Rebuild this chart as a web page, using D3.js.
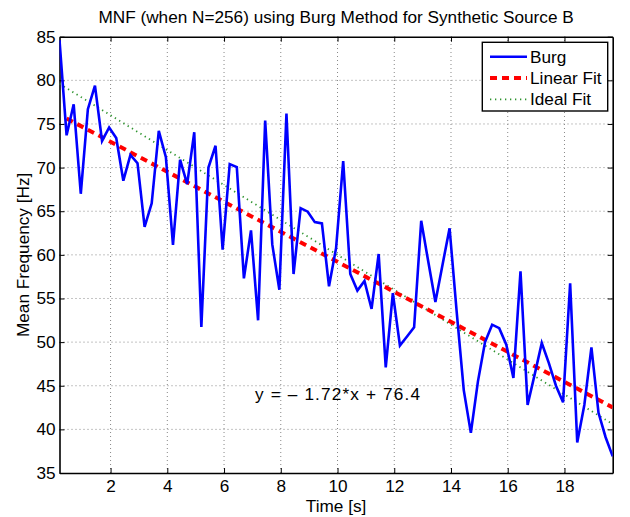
<!DOCTYPE html>
<html>
<head>
<meta charset="utf-8">
<script src="https://cdn.jsdelivr.net/npm/d3@7"></script>
<style>
  body { margin: 0; background: #fff; }
  text { font-family: "Liberation Sans", Arial, sans-serif; fill: #000; }
</style>
</head>
<body>
<div id="chart"></div>
<script>
// Sample times [s]
const times = [
  0.2, 0.45, 0.7, 0.95, 1.2, 1.45, 1.7, 1.95, 2.2, 2.45,
  2.7, 2.95, 3.2, 3.45, 3.7, 3.95, 4.2, 4.45, 4.7, 4.95,
  5.2, 5.45, 5.7, 5.95, 6.2, 6.45, 6.7, 6.95, 7.2, 7.45,
  7.7, 7.95, 8.2, 8.45, 8.7, 8.95, 9.2, 9.45, 9.7, 9.95,
  10.2, 10.45, 10.7, 10.95, 11.2, 11.45, 11.7, 11.95, 12.2, 12.45,
  12.7, 12.95, 13.2, 13.45, 13.7, 13.95, 14.2, 14.45, 14.7, 14.95,
  15.2, 15.45, 15.7, 15.95, 16.2, 16.45, 16.7, 16.95, 17.2, 17.45,
  17.7, 17.95, 18.2, 18.45, 18.7, 18.95, 19.2, 19.45, 19.7
];

// Burg mean frequency [Hz]
const burg = [
  84.6, 73.7, 77.25, 67.0, 76.7, 79.4, 73.05, 74.6, 73.4, 68.5,
  71.45, 70.5, 63.2, 65.9, 74.2, 71.2, 61.15, 70.9, 68.1, 74.05,
  51.75, 70.0, 72.5, 60.6, 70.4, 70.05, 57.3, 62.8, 52.5, 75.4,
  61.2, 56.0, 76.2, 57.8, 65.35, 64.95, 63.75, 63.6, 56.4, 60.8,
  70.75, 57.8, 55.9, 57.0, 53.8, 60.1, 47.1, 55.6, 49.6, 50.65,
  51.7, 63.9, 59.2, 54.6, 58.85, 63.05, 53.5, 44.5, 39.6, 45.5,
  50.0, 52.0, 51.6, 49.7, 45.9, 58.1, 42.8, 46.3, 49.9, 47.6,
  45.0, 43.1, 56.75, 38.5, 42.8, 49.4, 41.9, 39.1, 36.9
];

// fit coefficients
const linearFit = { slope: -1.72, intercept: 76.4 };
const idealFit = { slope: -2, intercept: 80 };

const xTicks = [2, 4, 6, 8, 10, 12, 14, 16, 18];
const yTicks = [35, 40, 45, 50, 55, 60, 65, 70, 75, 80, 85];

const legendItems = ["Burg", "Linear Fit", "Ideal Fit"];

const width = 630,
  height = 517;
const margin = { top: 36.7, right: 17.3, bottom: 44, left: 59.5 };
const fontSize = "17.2px";

const svg = d3
  .select("#chart")
  .append("svg")
  .attr("width", width)
  .attr("height", height);

const x = d3
  .scaleLinear()
  .domain([times[0], times[times.length - 1]])
  .range([margin.left, width - margin.right]);

const y = d3
  .scaleLinear()
  .domain([35, 85])
  .range([height - margin.bottom, margin.top]);

svg
  .append("clipPath")
  .attr("id", "clip")
  .append("rect")
  .attr("x", margin.left)
  .attr("y", margin.top)
  .attr("width", width - margin.left - margin.right)
  .attr("height", height - margin.top - margin.bottom);

// grid
const grid = svg.append("g").attr("stroke", "#888").attr("stroke-width", 1).attr("stroke-dasharray", "1,3");
xTicks.forEach((t) => {
  grid.append("line")
    .attr("x1", x(t)).attr("x2", x(t))
    .attr("y1", y(35)).attr("y2", y(85));
});
yTicks.slice(1, -1).forEach((t) => {
  grid.append("line")
    .attr("x1", x.range()[0]).attr("x2", x.range()[1])
    .attr("y1", y(t)).attr("y2", y(t));
});

// axes (box with inward ticks)
const tickLen = 5;
const axB = svg.append("g").attr("transform", `translate(0,${y(35)})`)
  .call(d3.axisBottom(x).tickValues(xTicks).tickSizeInner(-tickLen).tickSizeOuter(0).tickPadding(7));
const axT = svg.append("g").attr("transform", `translate(0,${y(85)})`)
  .call(d3.axisTop(x).tickValues(xTicks).tickSizeInner(-tickLen).tickSizeOuter(0).tickFormat(""));
const axL = svg.append("g").attr("transform", `translate(${x.range()[0]},0)`)
  .call(d3.axisLeft(y).tickValues(yTicks).tickSizeInner(-tickLen).tickSizeOuter(0).tickPadding(4));
const axR = svg.append("g").attr("transform", `translate(${x.range()[1]},0)`)
  .call(d3.axisRight(y).tickValues(yTicks).tickSizeInner(-tickLen).tickSizeOuter(0).tickFormat(""));

[axB, axT, axL, axR].forEach((a) => {
  a.select(".domain").attr("stroke", "#000").attr("stroke-width", 1.6);
  a.selectAll(".tick line").attr("stroke", "#000").attr("stroke-width", 1);
  a.selectAll(".tick text")
    .style("font-family", "'Liberation Sans', Arial, sans-serif")
    .style("font-size", fontSize)
    .attr("fill", "#000");
});

const plot = svg.append("g").attr("clip-path", "url(#clip)");

// ideal fit
plot.append("path")
  .datum([times[0], times[times.length - 1]])
  .attr("fill", "none")
  .attr("stroke", "#2f942f")
  .attr("stroke-width", 1.8)
  .attr("stroke-dasharray", "1.3,3.7")
  .attr("d", d3.line().x((t) => x(t)).y((t) => y(idealFit.intercept + idealFit.slope * t)));

// linear fit
plot.append("path")
  .datum([times[1], times[times.length - 1]])
  .attr("fill", "none")
  .attr("stroke", "#ff0000")
  .attr("stroke-width", 4)
  .attr("stroke-dasharray", "7,5")
  .attr("d", d3.line().x((t) => x(t)).y((t) => y(linearFit.intercept + linearFit.slope * t)));

// burg curve
plot.append("path")
  .datum(times.map((t, i) => [t, burg[i]]))
  .attr("fill", "none")
  .attr("stroke", "#0000ff")
  .attr("stroke-width", 2.6)
  .attr("stroke-linejoin", "miter")
  .attr("d", d3.line().x((d) => x(d[0])).y((d) => y(d[1])));

// equation
svg.append("text")
  .attr("x", 255)
  .attr("y", 399.5)
  .attr("textLength", 165)
  .attr("lengthAdjust", "spacing")
  .style("font-size", fontSize)
  .text("y = \u2013 1.72*x + 76.4");

// title
svg.append("text")
  .attr("x", (x.range()[0] + x.range()[1]) / 2)
  .attr("y", 23)
  .attr("text-anchor", "middle")
  .style("font-size", fontSize)
  .text("MNF (when N=256) using Burg Method for Synthetic Source B");

// axis labels
svg.append("text")
  .attr("x", (x.range()[0] + x.range()[1]) / 2)
  .attr("y", 512)
  .attr("text-anchor", "middle")
  .style("font-size", fontSize)
  .text("Time [s]");

svg.append("text")
  .attr("transform", `translate(29,${(y(35) + y(85)) / 2}) rotate(-90)`)
  .attr("text-anchor", "middle")
  .style("font-size", fontSize)
  .text("Mean Frequency [Hz]");

// legend
const legend = svg.append("g");
legend.append("rect")
  .attr("x", 482.3).attr("y", 42.3)
  .attr("width", 125.4).attr("height", 68.7)
  .attr("fill", "#fff").attr("stroke", "#000").attr("stroke-width", 1.4);

const legendStyles = [
  { stroke: "#0000ff", width: 2.6, dash: null },
  { stroke: "#ff0000", width: 4, dash: "7,5" },
  { stroke: "#2f942f", width: 1.8, dash: "1.3,3.7" }
];
legendItems.forEach((name, i) => {
  const ly = 56.7 + i * 21.3;
  legend.append("line")
    .attr("x1", 490).attr("x2", 527)
    .attr("y1", ly).attr("y2", ly)
    .attr("stroke", legendStyles[i].stroke)
    .attr("stroke-width", legendStyles[i].width)
    .attr("stroke-dasharray", legendStyles[i].dash);
  legend.append("text")
    .attr("x", 530).attr("y", ly + 6)
    .style("font-size", fontSize)
    .text(name);
});
</script>
</body>
</html>
